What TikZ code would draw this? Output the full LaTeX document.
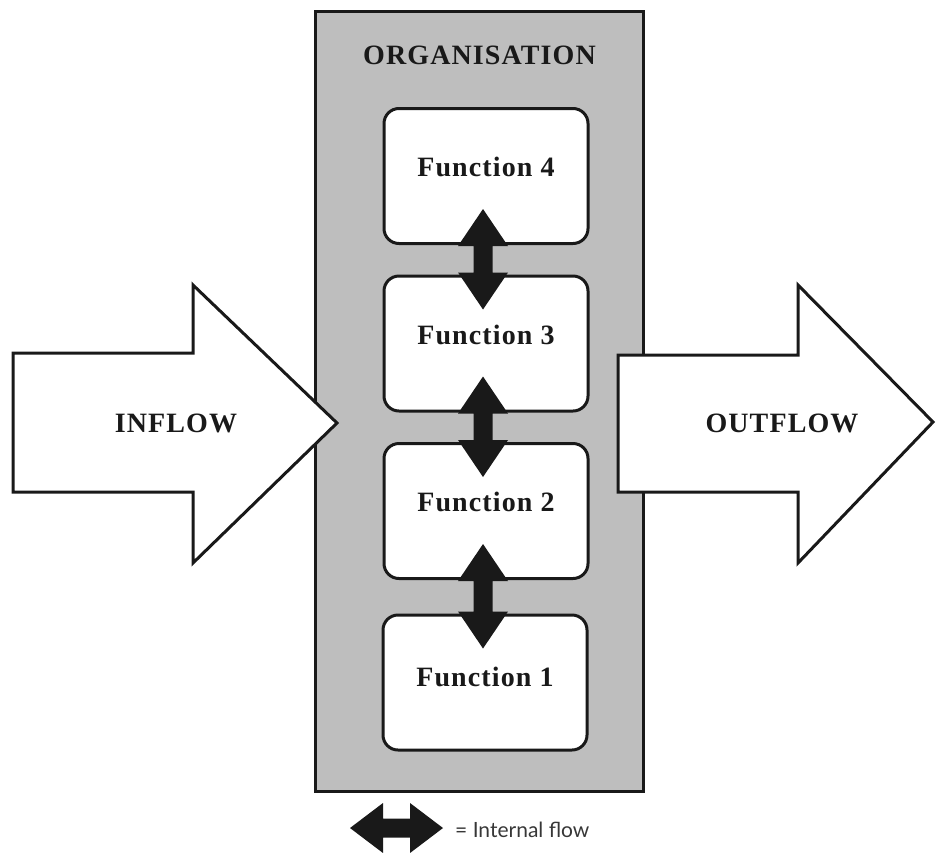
\documentclass[tikz,border=0pt]{standalone}
\usepackage{fontspec}
\setmainfont{Liberation Serif}
\newfontfamily\labelfont[LetterSpace=4]{Liberation Serif}
\newfontfamily\notefont{Lato}
\usetikzlibrary{calc}
\definecolor{orggray}{RGB}{190,190,190}
\definecolor{inkdark}{RGB}{25,25,25}
\definecolor{notegray}{RGB}{55,55,55}

% vertical double-headed internal-flow arrow between two tip points
\newcommand\internalflowv[2]{%
  \fill[inkdark] (#1) -- ++(25,37) -- ++(-15.5,0) -- ($(#2)+(9.5,-37)$)
    -- ++(15.5,0) -- (#2) -- ++(-25,-37) -- ++(15.5,0)
    -- ($(#1)+(-9.5,37)$) -- ++(-15.5,0) -- cycle;}

\begin{document}
\begin{tikzpicture}[x=1pt,y=-1pt,
  orgbox/.style={draw=inkdark, line width=3pt, fill=orggray,
    minimum width=328pt, minimum height=780pt, inner sep=0pt},
  funcbox/.style={draw=inkdark, line width=3pt, fill=white,
    rounded corners=15pt, minimum width=204pt, minimum height=135pt,
    inner sep=0pt},
  flowshape/.style={draw=inkdark, line width=3pt, fill=white, line join=miter},
  boldlabel/.style={font=\labelfont\bfseries\fontsize{28}{32}\selectfont,
    text=inkdark, inner sep=0pt},
  notelabel/.style={font=\notefont\fontsize{21}{25}\selectfont,
    text=notegray, inner sep=0pt}]

\useasboundingbox (0,0) rectangle (936,852);

% organisation frame
\node[orgbox] (org) at (479.5,401.5) {};
\node[boldlabel] (orgtitle) at (479.5,55) {ORGANISATION};

% inflow and outflow block arrows
\draw[flowshape] (13,353) -- (193,353) -- (193,285) -- (337,423)
  -- (193,563) -- (193,492) -- (13,492) -- cycle;
\node[boldlabel] (inflow) at (176,423) {INFLOW};

\draw[flowshape] (618,355) -- (798,355) -- (798,285) -- (933,422)
  -- (798,563) -- (798,492) -- (618,492) -- cycle;
\node[boldlabel] (outflow) at (782,423) {OUTFLOW};

% functions
\node[funcbox] (f4) at (486,176) {};
\node[funcbox] (f3) at (486,343.5) {};
\node[funcbox] (f2) at (486,511) {};
\node[funcbox] (f1) at (485,682.5) {};

\node[boldlabel] (t4) at ([yshift=9pt]f4.center) {Function 4};
\node[boldlabel] (t3) at ([yshift=9pt]f3.center) {Function 3};
\node[boldlabel] (t2) at ([yshift=9pt]f2.center) {Function 2};
\node[boldlabel] (t1) at ([yshift=6pt]f1.center) {Function 1};

% internal flows between neighbouring functions
\coordinate (a43t) at ([xshift=-3pt,yshift=36pt]f4.south);
\coordinate (a43b) at ([xshift=-3pt,yshift=-35pt]f3.north);
\coordinate (a32t) at ([xshift=-3pt,yshift=36pt]f3.south);
\coordinate (a32b) at ([xshift=-3pt,yshift=-35pt]f2.north);
\coordinate (a21t) at ([xshift=-3pt,yshift=36pt]f2.south);
\coordinate (a21b) at ([xshift=-2pt,yshift=-35pt]f1.north);
\internalflowv{a43t}{a43b}
\internalflowv{a32t}{a32b}
\internalflowv{a21t}{a21b}

% legend
\coordinate (lgl) at (350,828);
\coordinate (lgr) at (443,828);
\fill[inkdark] (lgl) -- ++(33,-25) -- ++(0,15.5) -- ($(lgr)+(-33,-9.5)$)
  -- ++(0,-15.5) -- (lgr) -- ++(-33,25) -- ++(0,-15.5)
  -- ($(lgl)+(33,9.5)$) -- ++(0,15.5) -- cycle;
\node[notelabel, anchor=base west] (legend) at (455,837) {= Internal flow};
\end{tikzpicture}
\end{document}
